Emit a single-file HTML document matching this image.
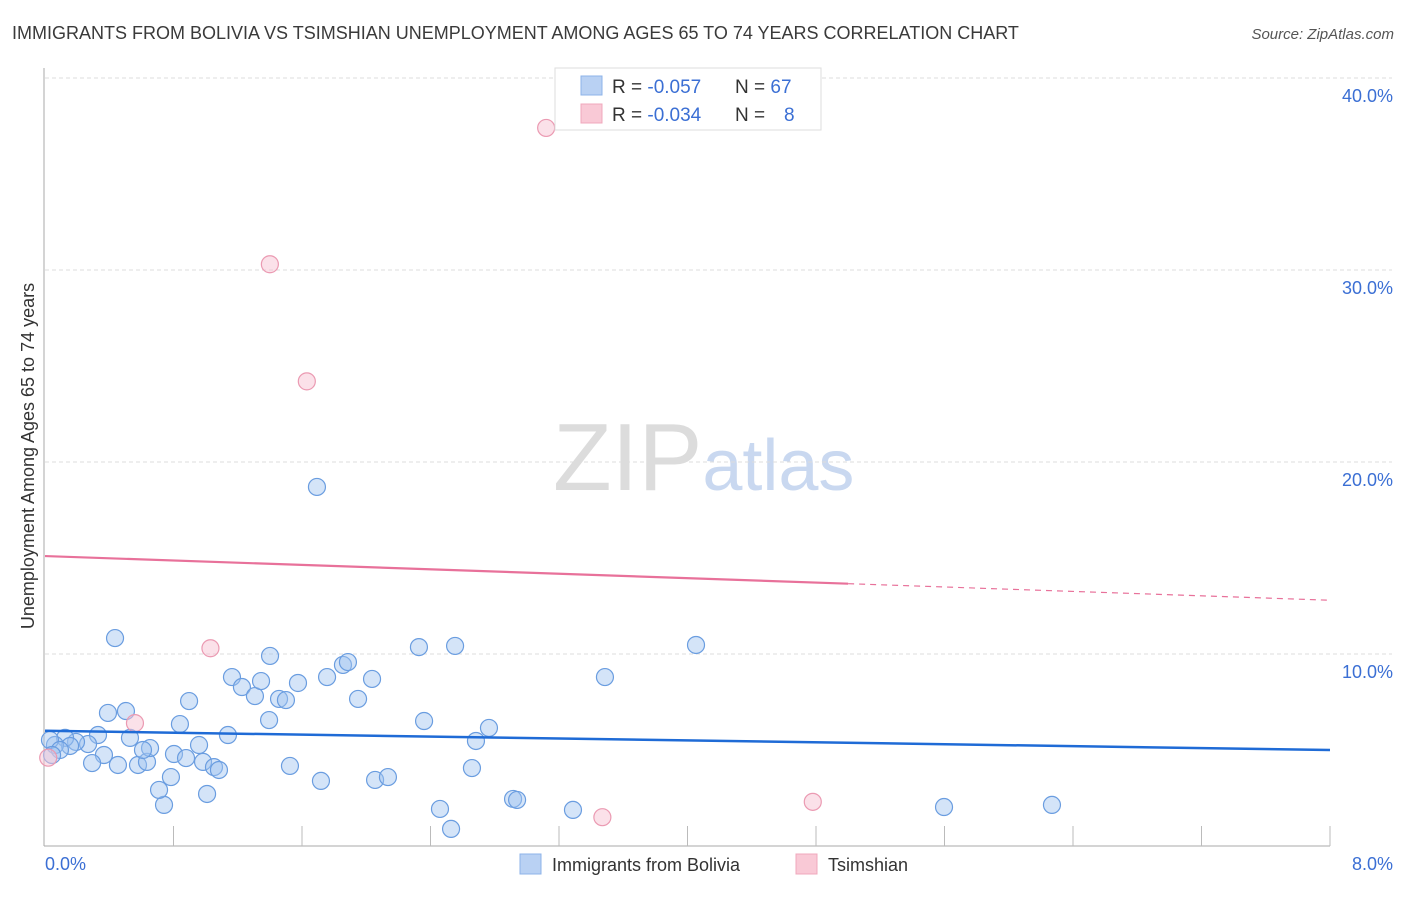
<!DOCTYPE html>
<html><head><meta charset="utf-8">
<style>
body{margin:0;background:#fff;font-family:"Liberation Sans",sans-serif;}
svg text{font-family:"Liberation Sans",sans-serif;}
</style></head>
<body>
<svg id="chart" width="1406" height="892" xmlns="http://www.w3.org/2000/svg">
<text x="12" y="39" font-size="18" fill="#3a3a3a">IMMIGRANTS FROM BOLIVIA VS TSIMSHIAN UNEMPLOYMENT AMONG AGES 65 TO 74 YEARS CORRELATION CHART</text>
<text x="1394" y="39" font-size="15" fill="#555" text-anchor="end" font-style="italic">Source: ZipAtlas.com</text>
<text x="553" y="490" font-size="96" fill="#dcdcdc" font-family="Liberation Serif">ZIP<tspan fill="#c9d8f0" font-family="Liberation Sans" font-size="72">atlas</tspan></text>
<text transform="translate(34,456) rotate(-90)" font-size="18" fill="#333" text-anchor="middle">Unemployment Among Ages 65 to 74 years</text>
<g id="grid"></g><g id="marks"></g>
<g>
<rect x="555" y="68" width="266" height="62" fill="#fff" stroke="#ddd"/>
<rect x="581" y="76" width="21" height="19" fill="#b9d1f3" stroke="#8db3e8"/>
<rect x="581" y="104" width="21" height="19" fill="#f9c9d6" stroke="#f0a8bc"/>
<text x="612" y="93" font-size="19" fill="#333">R = <tspan fill="#3b6fd4">-0.057</tspan></text>
<text x="735" y="93" font-size="19" fill="#333">N = <tspan fill="#3b6fd4">67</tspan></text>
<text x="612" y="121" font-size="19" fill="#333">R = <tspan fill="#3b6fd4">-0.034</tspan></text>
<text x="735" y="121" font-size="19" fill="#333">N =</text>
<text x="784" y="121" font-size="19" fill="#3b6fd4">8</text>
</g>
<g>
<rect x="520" y="854" width="21" height="20" fill="#b9d1f3" stroke="#8db3e8"/>
<text x="552" y="871" font-size="18" fill="#333">Immigrants from Bolivia</text>
<rect x="796" y="854" width="21" height="20" fill="#f9c9d6" stroke="#f0a8bc"/>
<text x="828" y="871" font-size="18" fill="#333">Tsimshian</text>
</g>
</svg>
<script>
const blueX=[0.436,0.392,0.504,0.330,0.268,0.193,0.125,0.156,0.062,0.031,0.093,0.044,0.367,0.293,0.454,0.579,0.635,0.654,0.610,0.529,0.741,0.710,0.784,0.803,0.840,0.878,0.897,0.959,0.984,1.009,1.052,1.083,1.139,1.164,1.226,1.307,1.345,1.401,1.395,1.457,1.500,1.525,1.575,1.693,1.718,1.756,1.855,1.886,1.949,2.036,2.055,2.135,2.328,2.360,2.459,2.528,2.553,2.658,2.683,2.764,2.914,2.939,3.287,3.486,4.053,5.597,6.269];
const blueY=[10.83,6.93,7.03,5.78,5.31,5.42,5.63,5.21,5.26,5.52,5.0,4.74,4.74,4.32,4.22,4.22,4.38,5.10,5.0,5.63,2.14,2.92,3.59,4.79,6.35,4.58,7.55,5.26,4.38,2.71,4.11,3.96,5.78,8.80,8.28,7.81,8.59,9.90,6.56,7.66,7.60,4.17,8.49,18.70,3.39,8.80,9.43,9.58,7.66,8.70,3.44,3.59,10.36,6.51,1.93,0.89,10.42,4.06,5.47,6.15,2.45,2.40,1.88,8.80,10.47,2.03,2.14];
const pinkX=[3.12,1.40,1.63,1.03,0.56,0.02,3.47,4.78];
const pinkY=[37.4,30.3,24.2,10.3,6.4,4.6,1.5,2.3];
const xTicks=[0.8,1.6,2.4,3.2,4.0,4.8,5.6,6.4,7.2,8.0];
const yTicks=[10,20,30,40];
const yTickLabels=["10.0%","20.0%","30.0%","40.0%"];
const xEndLabels=["0.0%","8.0%"];
const blueLine=[6.0,5.0], pinkLine=[15.1,12.8], pinkSolidEnd=5.0;
const X=v=>45+v/8*1285, Y=v=>846-v*19.2;
const NS="http://www.w3.org/2000/svg";
function mk(t,a,p){const e=document.createElementNS(NS,t);for(const k in a)e.setAttribute(k,a[k]);p.appendChild(e);return e;}
const g=document.getElementById('grid'),m=document.getElementById('marks');
let ax=mk('line',{x1:44,y1:68,x2:44,y2:846,stroke:'#aaa'},g);


let bx=mk('line',{x1:44,y1:846,x2:1330,y2:846,stroke:'#aaa'},g);


yTicks.forEach((v,i)=>{
 let l=mk('line',{x1:45,y1:Y(v),x2:1392,y2:Y(v),stroke:'#ddd','stroke-dasharray':'4,3'},g);
 
 
 let t=mk('text',{x:1393,y:Y(v)+24,'font-size':18,fill:'#3b6fd4','text-anchor':'end'},g);t.textContent=yTickLabels[i];
 
 
});
xTicks.forEach(v=>{let l=mk('line',{x1:X(v),y1:826,x2:X(v),y2:846,stroke:'#bbb'},g);
 
 });
[[0,45,'start'],[1,1393,'end']].forEach(([i,x,a])=>{let t=mk('text',{x:x,y:870,'font-size':18,fill:'#3b6fd4','text-anchor':a},g);t.textContent=xEndLabels[i];
 
 });
blueX.forEach((v,i)=>{let c=mk('circle',{cx:X(v),cy:Y(blueY[i]),r:8.5,fill:'rgba(160,196,240,0.45)',stroke:'#6a9de0','stroke-width':1.2},m);
 
 });
pinkX.forEach((v,i)=>{let c=mk('circle',{cx:X(v),cy:Y(pinkY[i]),r:8.5,fill:'rgba(248,196,212,0.5)',stroke:'#eb9ab2','stroke-width':1.2},m);
 
 });
let bl=mk('line',{x1:X(0),y1:Y(blueLine[0]),x2:X(8),y2:Y(blueLine[1]),stroke:'#1f6bd6','stroke-width':2.5},m);


const py=v=>pinkLine[0]+(pinkLine[1]-pinkLine[0])*v/8;
let pl=mk('line',{x1:X(0),y1:Y(py(0)),x2:X(pinkSolidEnd),y2:Y(py(pinkSolidEnd)),stroke:'#e8719a','stroke-width':2.2},m);


let pd=mk('line',{x1:X(pinkSolidEnd),y1:Y(py(pinkSolidEnd)),x2:X(8),y2:Y(py(8)),stroke:'#e8719a','stroke-width':1.2,'stroke-dasharray':'6,5'},m);


</script>
</body></html>
